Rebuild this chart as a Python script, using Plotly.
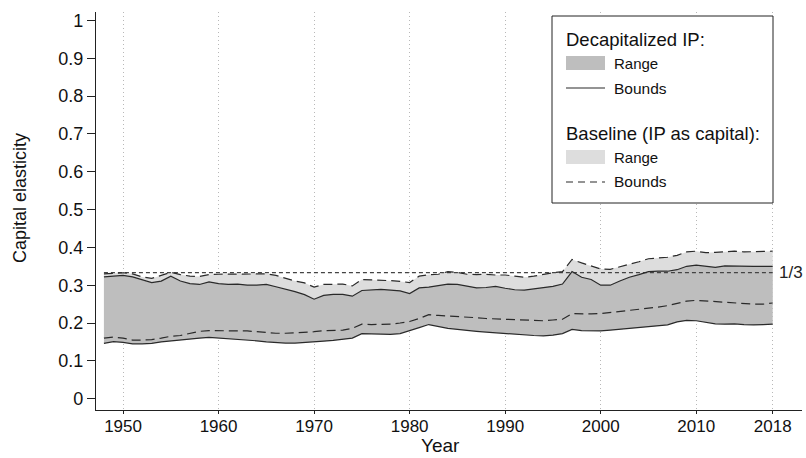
import plotly.graph_objects as go

years = list(range(1948, 2019))

dec_upper = [0.322, 0.325, 0.326, 0.322, 0.315, 0.307, 0.311, 0.324, 0.311, 0.304,
             0.302, 0.309, 0.304, 0.302, 0.303, 0.300, 0.300, 0.302, 0.296, 0.290,
             0.283, 0.275, 0.263, 0.273, 0.276, 0.276, 0.271, 0.286, 0.288, 0.289,
             0.287, 0.285, 0.278, 0.293, 0.295, 0.300, 0.303, 0.302, 0.298, 0.293,
             0.294, 0.297, 0.292, 0.288, 0.287, 0.290, 0.295, 0.297, 0.303, 0.336,
             0.321, 0.315, 0.300, 0.300, 0.311, 0.321, 0.328, 0.336, 0.337, 0.337,
             0.341, 0.350, 0.353, 0.350, 0.347, 0.351, 0.350, 0.349, 0.350, 0.350,
             0.350]

dec_lower = [0.146, 0.151, 0.149, 0.145, 0.145, 0.146, 0.150, 0.153, 0.154, 0.157,
             0.160, 0.162, 0.160, 0.159, 0.158, 0.156, 0.153, 0.150, 0.148, 0.147,
             0.147, 0.148, 0.150, 0.152, 0.154, 0.156, 0.160, 0.172, 0.171, 0.170,
             0.170, 0.172, 0.179, 0.188, 0.196, 0.190, 0.186, 0.183, 0.180, 0.178,
             0.176, 0.174, 0.172, 0.170, 0.168, 0.167, 0.166, 0.168, 0.172, 0.183,
             0.180, 0.179, 0.179, 0.181, 0.183, 0.185, 0.187, 0.189, 0.192, 0.195,
             0.203, 0.207, 0.206, 0.202, 0.198, 0.197, 0.198, 0.196, 0.195, 0.196,
             0.197]

base_upper = [0.330, 0.332, 0.333, 0.330, 0.322, 0.318, 0.325, 0.334, 0.328, 0.324,
              0.323, 0.328, 0.329, 0.329, 0.329, 0.329, 0.329, 0.330, 0.326, 0.318,
              0.311, 0.306, 0.295, 0.302, 0.303, 0.303, 0.298, 0.315, 0.314, 0.314,
              0.312, 0.310, 0.307, 0.324, 0.328, 0.329, 0.336, 0.334, 0.329, 0.328,
              0.329, 0.327, 0.327, 0.324, 0.321, 0.324, 0.329, 0.333, 0.336, 0.368,
              0.359, 0.352, 0.343, 0.342, 0.348, 0.355, 0.362, 0.370, 0.372, 0.374,
              0.379, 0.388, 0.390, 0.386, 0.387, 0.389, 0.390, 0.388, 0.388, 0.388,
              0.390]

base_lower = [0.160, 0.163, 0.160, 0.155, 0.155, 0.156, 0.160, 0.165, 0.167, 0.172,
              0.178, 0.180, 0.180, 0.180, 0.180, 0.179, 0.177, 0.175, 0.173, 0.173,
              0.174, 0.175, 0.177, 0.180, 0.181, 0.181, 0.186, 0.197, 0.196, 0.196,
              0.197, 0.200, 0.204, 0.212, 0.222, 0.220, 0.219, 0.218, 0.216, 0.214,
              0.212, 0.211, 0.210, 0.209, 0.208, 0.207, 0.206, 0.208, 0.210, 0.225,
              0.224, 0.224, 0.225, 0.228, 0.230, 0.233, 0.235, 0.238, 0.242, 0.246,
              0.252, 0.258, 0.260, 0.258, 0.256, 0.254, 0.254, 0.252, 0.250, 0.250,
              0.253]

third = 1 / 3
x_ticks = [1950, 1960, 1970, 1980, 1990, 2000, 2010, 2018]
y_ticks = [0, 0.1, 0.2, 0.3, 0.4, 0.5, 0.6, 0.7, 0.8, 0.9, 1]
y_tick_text = ["0", "0.1", "0.2", "0.3", "0.4", "0.5", "0.6", "0.7", "0.8", "0.9", "1"]

DARK = "#bebebe"
LIGHT = "#dddddd"
LINE = "#2a2a2a"
FONT = "Liberation Sans, Arial, sans-serif"

W, H = 806, 458
L, R, T, B = 96, 4, 12, 48
PW, PH = W - L - R, H - T - B


def px(x):
    return (x - L) / PW


def py(y):
    return (H - B - y) / PH


fig = go.Figure()
# baseline range (light)
fig.add_trace(go.Scatter(x=years, y=base_lower, mode="lines", line=dict(width=0),
                         showlegend=False, hoverinfo="skip"))
fig.add_trace(go.Scatter(x=years, y=base_upper, mode="lines", line=dict(width=0),
                         fill="tonexty", fillcolor=LIGHT, showlegend=False, hoverinfo="skip"))
# decapitalized range (dark)
fig.add_trace(go.Scatter(x=years, y=dec_lower, mode="lines", line=dict(width=0),
                         showlegend=False, hoverinfo="skip"))
fig.add_trace(go.Scatter(x=years, y=dec_upper, mode="lines", line=dict(width=0),
                         fill="tonexty", fillcolor=DARK, showlegend=False, hoverinfo="skip"))
# 1/3 reference
fig.add_trace(go.Scatter(x=years, y=[third] * len(years), mode="lines",
                         line=dict(color="#444444", width=1.3, dash="4px,3px"), showlegend=False))
# bounds
for ys, dash in [(base_lower, "9px,5px"), (base_upper, "9px,5px"),
                 (dec_lower, "solid"), (dec_upper, "solid")]:
    fig.add_trace(go.Scatter(x=years, y=ys, mode="lines",
                             line=dict(color=LINE, width=1.2, dash=dash), showlegend=False))

fig.add_annotation(x=2018, y=third, xref="x", yref="y", text="1/3", showarrow=False,
                   xanchor="left", xshift=4, font=dict(size=17, color="#222", family=FONT))

# axis titles
fig.add_annotation(x=px(440), y=py(445), xref="paper", yref="paper", text="Year",
                   showarrow=False, xanchor="center", yanchor="middle",
                   font=dict(size=19, color="#111", family=FONT))
fig.add_annotation(x=px(20), y=py(198), xref="paper", yref="paper", text="Capital elasticity",
                   showarrow=False, xanchor="center", yanchor="middle", textangle=-90,
                   font=dict(size=18, color="#111", family=FONT))

# manual legend
shapes = [
    dict(type="rect", xref="paper", yref="paper", x0=px(552), x1=px(773), y0=py(203), y1=py(16),
         line=dict(color="#222", width=1), fillcolor="white", layer="above"),
    dict(type="rect", xref="paper", yref="paper", x0=px(566), x1=px(605), y0=py(70), y1=py(56),
         line=dict(width=0), fillcolor=DARK, layer="above"),
    dict(type="line", xref="paper", yref="paper", x0=px(566), x1=px(605), y0=py(88), y1=py(88),
         line=dict(color=LINE, width=1.2), layer="above"),
    dict(type="rect", xref="paper", yref="paper", x0=px(566), x1=px(605), y0=py(164), y1=py(150),
         line=dict(width=0), fillcolor=LIGHT, layer="above"),
    dict(type="line", xref="paper", yref="paper", x0=px(566), x1=px(605), y0=py(182), y1=py(182),
         line=dict(color=LINE, width=1.2, dash="7px,5px"), layer="above"),
]
for txt, x, y, s in [("Decapitalized IP:", 566, 39, 18.5), ("Range", 614, 63, 15),
                     ("Bounds", 614, 88, 15.5), ("Baseline (IP as capital):", 566, 133, 18.5),
                     ("Range", 614, 157, 15), ("Bounds", 614, 182, 15.5)]:
    fig.add_annotation(x=px(x), y=py(y), xref="paper", yref="paper", text=txt, showarrow=False,
                       xanchor="left", yanchor="middle", xshift=-2,
                       font=dict(size=s, color="#111", family=FONT))

fig.update_layout(
    width=W, height=H, margin=dict(l=L, r=R, t=T, b=B, autoexpand=False),
    plot_bgcolor="white", paper_bgcolor="white", shapes=shapes,
    font=dict(family=FONT, color="#111"),
)
fig.update_xaxes(range=[1947.17, 2021.07], tickvals=x_ticks, ticktext=[str(t) for t in x_ticks],
                 showgrid=True, gridcolor="#b8b8b8", griddash="1px,3px", gridwidth=1,
                 showline=True, linecolor="#222", linewidth=1.2, ticks="outside", ticklen=3,
                 ticklabelstandoff=-3,
                 tickcolor="#222", tickfont=dict(size=17), automargin=False, zeroline=False)
fig.update_yaxes(range=[-0.03, 1.0225], tickvals=y_ticks, ticktext=y_tick_text,
                 showgrid=False, showline=True, linecolor="#222", linewidth=1.2,
                 ticks="outside", ticklen=8, tickcolor="#222", tickfont=dict(size=18),
                 automargin=False, zeroline=False)

fig.write_html("out.html", config={"displayModeBar": False},
               post_script="document.body.style.margin='0px';document.body.style.overflow='hidden';")
